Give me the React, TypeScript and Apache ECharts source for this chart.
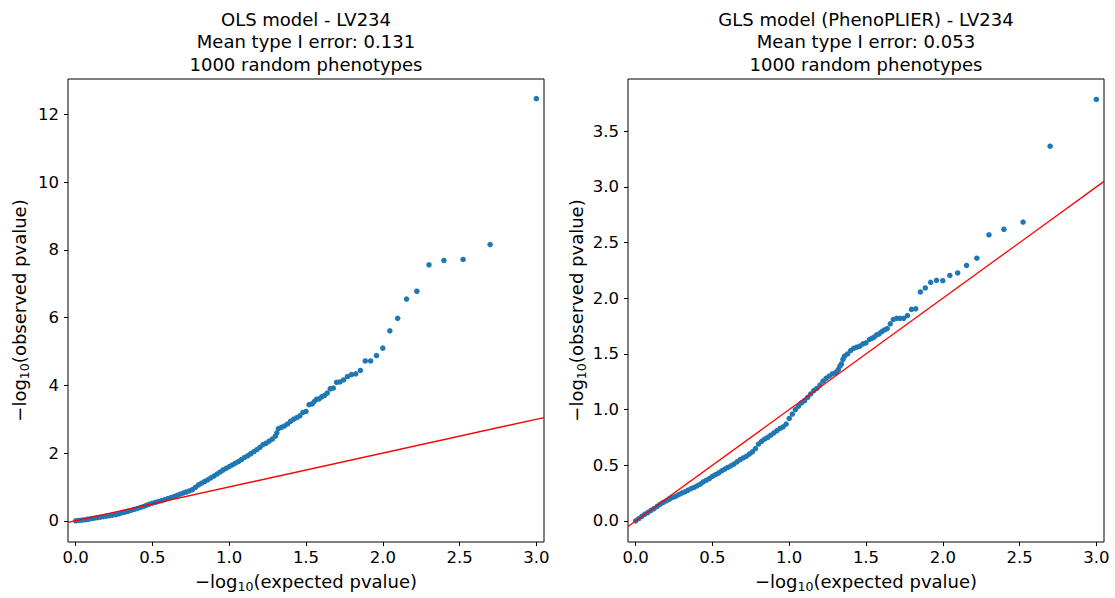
import React, { useEffect, useRef } from "react";
import * as echarts from "echarts";

// ---- data ----
const olsExpected = [
  0.0, 0.02, 0.04, 0.06, 0.08, 0.1, 0.12, 0.14, 0.16, 0.18, 0.2, 0.22, 0.24, 0.26, 0.28, 0.3, 0.32, 0.34, 0.36, 0.38,
  0.4, 0.42, 0.44, 0.46, 0.48, 0.5, 0.52, 0.54, 0.56, 0.58, 0.6, 0.62, 0.64, 0.66, 0.68, 0.7, 0.72, 0.74, 0.76, 0.78,
  0.8, 0.82, 0.84, 0.86, 0.88, 0.9, 0.92, 0.94, 0.96, 0.98, 1.0, 1.02, 1.04, 1.06, 1.08, 1.1, 1.12, 1.14, 1.16, 1.18,
  1.2, 1.22, 1.24, 1.26, 1.28, 1.3, 1.31, 1.32, 1.34, 1.36, 1.38, 1.4, 1.42, 1.44, 1.46, 1.48, 1.5, 1.52, 1.54, 1.553,
  1.569, 1.585, 1.602, 1.62, 1.638, 1.658, 1.678, 1.699, 1.721, 1.745, 1.77, 1.796, 1.824, 1.854, 1.886, 1.921, 1.959,
  2.0, 2.046, 2.097, 2.155, 2.222, 2.301, 2.398, 2.523, 2.699, 3.0,
];
const olsObserved = [
  0.0, 0.01, 0.02, 0.03, 0.045, 0.06, 0.075, 0.09, 0.105, 0.12, 0.135, 0.15, 0.165, 0.18, 0.205, 0.23, 0.255, 0.28, 0.305, 0.335,
  0.36, 0.39, 0.42, 0.455, 0.49, 0.52, 0.545, 0.57, 0.595, 0.625, 0.655, 0.685, 0.715, 0.75, 0.785, 0.82, 0.85, 0.88, 0.92, 0.99,
  1.06, 1.11, 1.16, 1.21, 1.27, 1.32, 1.38, 1.44, 1.5, 1.55, 1.6, 1.65, 1.7, 1.75, 1.81, 1.87, 1.92, 1.98, 2.04, 2.1,
  2.17, 2.25, 2.29, 2.35, 2.41, 2.5, 2.6, 2.72, 2.76, 2.8, 2.86, 2.94, 3.0, 3.05, 3.1, 3.2, 3.23, 3.43, 3.45, 3.52,
  3.59, 3.6, 3.66, 3.7, 3.77, 3.9, 3.92, 4.09, 4.1, 4.16, 4.26, 4.32, 4.34, 4.44, 4.72, 4.72, 4.88,
  5.1, 5.61, 5.98, 6.55, 6.78, 7.56, 7.69, 7.72, 8.16, 12.47,
];

const glsExpected = [
  0.0, 0.02, 0.04, 0.06, 0.08, 0.1, 0.12, 0.14, 0.16, 0.18, 0.2, 0.22, 0.24, 0.26, 0.28, 0.3, 0.32, 0.34, 0.36, 0.38,
  0.4, 0.42, 0.44, 0.46, 0.48, 0.5, 0.52, 0.54, 0.56, 0.58, 0.6, 0.62, 0.64, 0.66, 0.68, 0.7, 0.72, 0.74, 0.76, 0.78,
  0.8, 0.82, 0.84, 0.86, 0.88, 0.9, 0.92, 0.94, 0.96, 0.98, 1.0, 1.02, 1.04, 1.06, 1.08, 1.1, 1.12, 1.14, 1.16, 1.18,
  1.2, 1.22, 1.24, 1.26, 1.28, 1.3, 1.31, 1.32, 1.33, 1.34, 1.35, 1.36, 1.38, 1.4, 1.42, 1.44, 1.46, 1.48, 1.5, 1.523,
  1.538, 1.553, 1.569, 1.585, 1.602, 1.62, 1.638, 1.658, 1.678, 1.699, 1.721, 1.745, 1.77, 1.796, 1.824, 1.854, 1.886,
  1.921, 1.959, 2.0, 2.046, 2.097, 2.155, 2.222, 2.301, 2.398, 2.523, 2.699, 3.0,
];
const glsObserved = [
  0.0, 0.02, 0.04, 0.06, 0.075, 0.095, 0.11, 0.13, 0.15, 0.165, 0.18, 0.195, 0.21, 0.22, 0.235, 0.25, 0.26, 0.275, 0.29, 0.3,
  0.315, 0.33, 0.35, 0.365, 0.38, 0.4, 0.415, 0.43, 0.45, 0.465, 0.48, 0.495, 0.51, 0.53, 0.55, 0.565, 0.58, 0.6, 0.62, 0.65,
  0.69, 0.715, 0.735, 0.75, 0.77, 0.79, 0.81, 0.83, 0.845, 0.87, 0.92, 0.96, 1.0, 1.03, 1.06, 1.08, 1.11, 1.14, 1.17, 1.19,
  1.22, 1.255, 1.28, 1.3, 1.32, 1.33, 1.34, 1.36, 1.39, 1.41, 1.45, 1.48, 1.5, 1.53, 1.55, 1.56, 1.57, 1.59, 1.6, 1.63,
  1.64, 1.65, 1.67, 1.68, 1.7, 1.715, 1.727, 1.77, 1.81, 1.82, 1.82, 1.82, 1.845, 1.9, 1.905, 2.057, 2.093,
  2.143, 2.161, 2.158, 2.205, 2.227, 2.295, 2.36, 2.57, 2.62, 2.685, 3.366, 3.786,
];

const xTicks = [0, 0.5, 1.0, 1.5, 2.0, 2.5, 3.0];
const olsYTicks = [0, 2, 4, 6, 8, 10, 12];
const glsYTicks = [0, 0.5, 1.0, 1.5, 2.0, 2.5, 3.0, 3.5];
const xRange = [-0.05, 3.05];
const olsYRange = [-0.627, 13.05];
const glsYRange = [-0.19, 3.97];

const olsTitle = ["OLS model - LV234", "Mean type I error: 0.131", "1000 random phenotypes"];
const glsTitle = ["GLS model (PhenoPLIER) - LV234", "Mean type I error: 0.053", "1000 random phenotypes"];

const FONT = "'DejaVu Sans', sans-serif";
const BLUE = "#1f77b4";
const LABEL_SIZE = 18;
const TICK_SIZE = 16.5;

function zip(a: number[], b: number[]) {
  return a.map((v, i) => [v, b[i]]);
}

export default function App() {
  const ref = useRef<HTMLDivElement>(null);

  useEffect(() => {
    if (!ref.current) return;
    const chart = echarts.init(ref.current, null, { renderer: "svg" });

    const gridW = 476;
    const gridH = 465;
    const grids = [
      { left: 68, top: 79, width: gridW, height: gridH },
      { left: 628, top: 79, width: gridW, height: gridH },
    ];

    const nameRich = {
      a: { fontSize: LABEL_SIZE, fontFamily: FONT, color: "#000", lineHeight: 24 },
      b: { fontSize: 12.6, fontFamily: FONT, color: "#000", lineHeight: 12, verticalAlign: "bottom" },
    };

    const makeX = (gi: number) => ({
      type: "value",
      gridIndex: gi,
      min: xRange[0],
      max: xRange[1],
      name: "{a|−log}{b|10}{a|(expected pvalue)}",
      nameLocation: "middle",
      nameGap: 27,
      nameTextStyle: { rich: nameRich },
      axisLine: { show: false, onZero: false },
      axisTick: { show: true, length: 4, lineStyle: { color: "#000", width: 1 }, customValues: xTicks },
      axisLabel: {
        customValues: xTicks,
        margin: 7,
        fontSize: TICK_SIZE,
        fontFamily: FONT,
        color: "#000",
        formatter: (v: number) => v.toFixed(1),
      },
      splitLine: { show: false },
    });

    const makeY = (gi: number, range: number[], ticks: number[], digits: number, gap: number) => ({
      type: "value",
      gridIndex: gi,
      min: range[0],
      max: range[1],
      name: "{a|−log}{b|10}{a|(observed pvalue)}",
      nameLocation: "middle",
      nameRotate: 90,
      nameGap: gap,
      nameTextStyle: { rich: nameRich },
      axisLine: { show: false, onZero: false },
      axisTick: { show: true, length: 4, lineStyle: { color: "#000", width: 1 }, customValues: ticks },
      axisLabel: {
        customValues: ticks,
        margin: 9,
        fontSize: TICK_SIZE,
        fontFamily: FONT,
        color: "#000",
        formatter: (v: number) => v.toFixed(digits),
      },
      splitLine: { show: false },
    });

    const titleText = (cx: number, lines: string[]) => ({
      type: "text",
      x: cx,
      y: 8,
      silent: true,
      style: {
        text: lines.join("\n"),
        textAlign: "center",
        textVerticalAlign: "top",
        fontSize: LABEL_SIZE,
        fontFamily: FONT,
        lineHeight: 22.5,
        fill: "#000",
      },
    });

    const option = {
      animation: false,
      backgroundColor: "#fff",
      grid: grids.map((g) => ({ ...g, show: true, borderColor: "#000", borderWidth: 1, backgroundColor: "transparent" })),
      xAxis: [makeX(0), makeX(1)],
      yAxis: [makeY(0, olsYRange, olsYTicks, 0, 37), makeY(1, glsYRange, glsYTicks, 1, 40)],
      graphic: [titleText(68 + gridW / 2, olsTitle), titleText(628 + gridW / 2, glsTitle)],
      series: [
        {
          type: "scatter",
          xAxisIndex: 0,
          yAxisIndex: 0,
          data: zip(olsExpected, olsObserved),
          symbolSize: 5.5,
          itemStyle: { color: BLUE, opacity: 1 },
          silent: true,
        },
        {
          type: "line",
          xAxisIndex: 0,
          yAxisIndex: 0,
          data: [
            [xRange[0], xRange[0]],
            [xRange[1], xRange[1]],
          ],
          showSymbol: false,
          lineStyle: { color: "#ff0000", width: 1.3 },
          silent: true,
          z: 5,
        },
        {
          type: "scatter",
          xAxisIndex: 1,
          yAxisIndex: 1,
          data: zip(glsExpected, glsObserved),
          symbolSize: 5.5,
          itemStyle: { color: BLUE, opacity: 1 },
          silent: true,
        },
        {
          type: "line",
          xAxisIndex: 1,
          yAxisIndex: 1,
          data: [
            [xRange[0], xRange[0]],
            [xRange[1], xRange[1]],
          ],
          showSymbol: false,
          lineStyle: { color: "#ff0000", width: 1.3 },
          silent: true,
          z: 5,
        },
      ],
    };

    chart.setOption(option as any);
    return () => chart.dispose();
  }, []);

  return (
    <div
      ref={ref}
      style={{ position: "absolute", left: 0, top: 0, width: 1115, height: 598, background: "#fff" }}
    />
  );
}
